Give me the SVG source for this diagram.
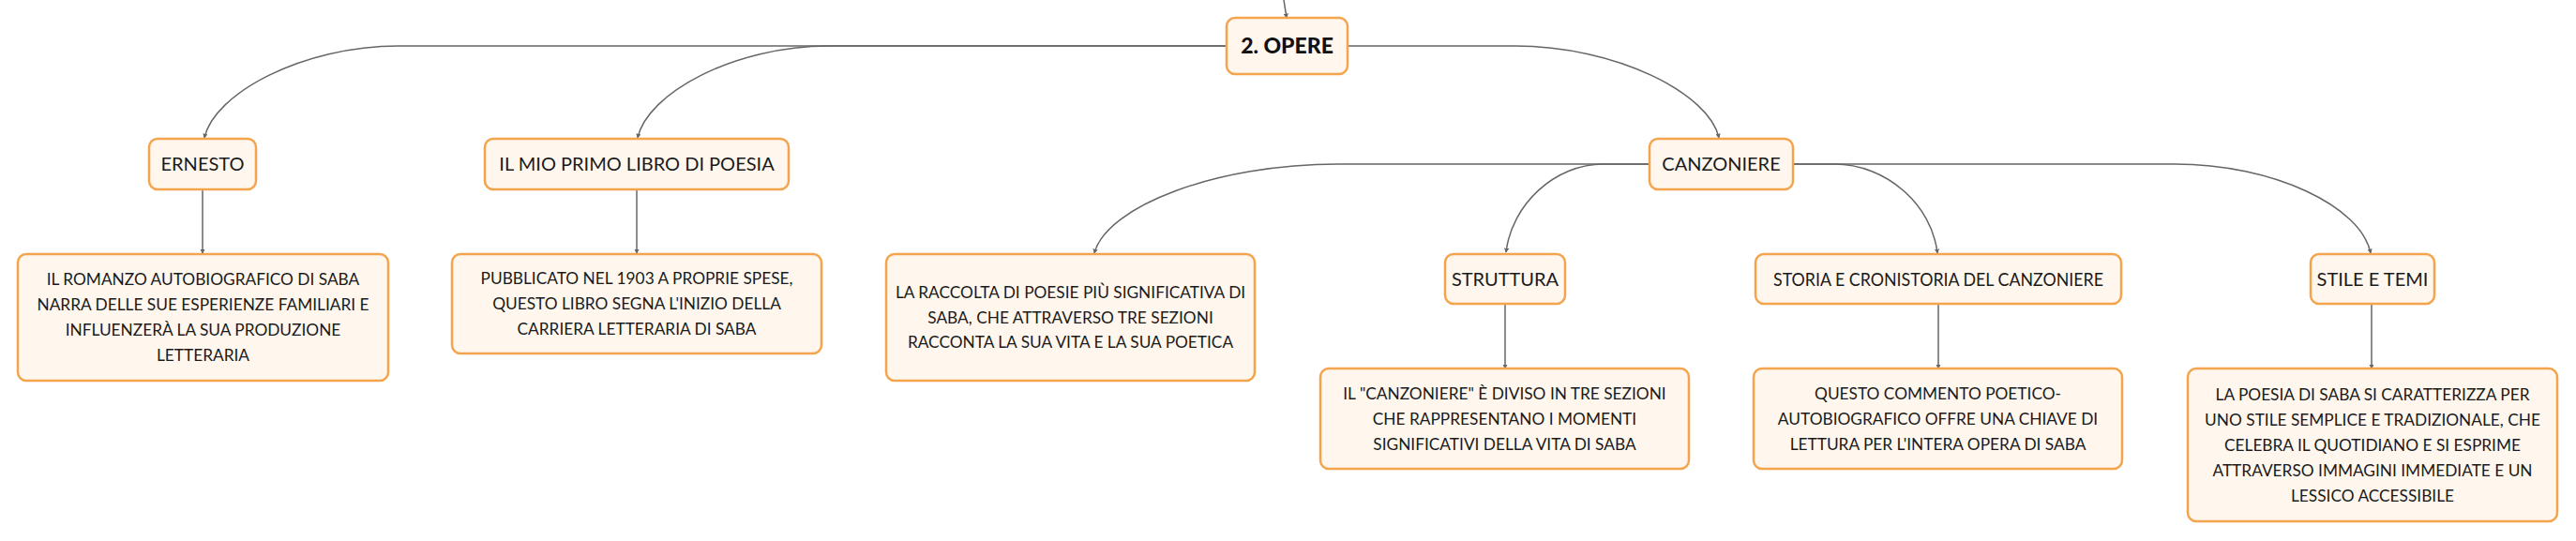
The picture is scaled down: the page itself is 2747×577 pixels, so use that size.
<svg xmlns="http://www.w3.org/2000/svg" width="2747" height="577" viewBox="0 0 2747 577">
<style>
.box{fill:#FFF7EE;stroke:#F4A44C;stroke-width:2.5}
.lbl{font-family:Lato,"Noto Sans","Liberation Sans",sans-serif;font-size:20px;fill:#1a1a1a;text-anchor:middle}
.desc{font-family:Lato,"Noto Sans","Liberation Sans",sans-serif;font-size:17.3px;fill:#1a1a1a;text-anchor:middle}
.root{font-family:Lato,"Noto Sans","Liberation Sans",sans-serif;font-size:23px;font-weight:900;fill:#111;text-anchor:middle}
.edge{fill:none;stroke:#666;stroke-width:1.5;marker-end:url(#arr)}
</style>
<defs>
<marker id="arr" viewBox="0 0 6 6" refX="5" refY="3" markerWidth="3.5" markerHeight="3.5" orient="auto" markerUnits="strokeWidth">
<path d="M0,0 L6,3 L0,6 z" fill="#666"/>
</marker>
</defs>
<rect width="2747" height="577" fill="#fff"/>
<g id="connectors">
<path class="edge" d="M1369 0 L1372 19"/>
<path class="edge" d="M1308 49 H425 C322 49 228 100 218 147"/>
<path class="edge" d="M1308 49 H884 C782 49 690 100 680 147"/>
<path class="edge" d="M1437 49 H1615 C1724 49 1823 100 1833 147"/>
<path class="edge" d="M1759 175 H1427 C1297 175 1180 220 1167 270"/>
<path class="edge" d="M1759 175 H1710 C1658 175 1612 218 1606 269"/>
<path class="edge" d="M1912 175 H1956 C2011 175 2060 218 2066 270"/>
<path class="edge" d="M1912 175 H2319 C2424 175 2518 220 2528 270"/>
<path class="edge" d="M216 202 V270"/>
<path class="edge" d="M679 202 V270"/>
<path class="edge" d="M1605 324 V393"/>
<path class="edge" d="M2067 324 V393"/>
<path class="edge" d="M2529 324 V393"/>
</g>
<g id="opere">
<rect class="box" x="1308" y="19" width="129" height="60" rx="9"/>
<text class="root" x="1372.5" y="57">2. OPERE</text>
</g>
<g id="ernesto">
<rect class="box" x="159" y="148" width="114" height="54" rx="9"/>
<text class="lbl" x="216" y="182">ERNESTO</text>
</g>
<g id="ernesto-desc">
<rect class="box" x="19" y="271" width="395" height="135" rx="9"/>
<text class="desc" x="216.5" y="303.5">IL ROMANZO AUTOBIOGRAFICO DI SABA</text>
<text class="desc" x="216.5" y="330.5">NARRA DELLE SUE ESPERIENZE FAMILIARI E</text>
<text class="desc" x="216.5" y="357.5">INFLUENZERÀ LA SUA PRODUZIONE</text>
<text class="desc" x="216.5" y="384.5">LETTERARIA</text>
</g>
<g id="primo-libro">
<rect class="box" x="517" y="148" width="324" height="54" rx="9"/>
<text class="lbl" x="679" y="182">IL MIO PRIMO LIBRO DI POESIA</text>
</g>
<g id="primo-libro-desc">
<rect class="box" x="482" y="271" width="394" height="106" rx="9"/>
<text class="desc" x="679" y="303">PUBBLICATO NEL 1903 A PROPRIE SPESE,</text>
<text class="desc" x="679" y="330">QUESTO LIBRO SEGNA L'INIZIO DELLA</text>
<text class="desc" x="679" y="357">CARRIERA LETTERARIA DI SABA</text>
</g>
<g id="canzoniere">
<rect class="box" x="1759" y="148" width="153" height="54" rx="9"/>
<text class="lbl" x="1835.5" y="182">CANZONIERE</text>
</g>
<g id="raccolta">
<rect class="box" x="945" y="271" width="393" height="135" rx="9"/>
<text class="desc" x="1141.5" y="317.5">LA RACCOLTA DI POESIE PIÙ SIGNIFICATIVA DI</text>
<text class="desc" x="1141.5" y="344.5">SABA, CHE ATTRAVERSO TRE SEZIONI</text>
<text class="desc" x="1141.5" y="371">RACCONTA LA SUA VITA E LA SUA POETICA</text>
</g>
<g id="struttura">
<rect class="box" x="1541" y="271" width="128" height="53" rx="9"/>
<text class="lbl" x="1605" y="304.5">STRUTTURA</text>
</g>
<g id="struttura-desc">
<rect class="box" x="1408" y="393" width="393" height="107" rx="9"/>
<text class="desc" x="1604.5" y="426">IL "CANZONIERE" È DIVISO IN TRE SEZIONI</text>
<text class="desc" x="1604.5" y="453">CHE RAPPRESENTANO I MOMENTI</text>
<text class="desc" x="1604.5" y="480">SIGNIFICATIVI DELLA VITA DI SABA</text>
</g>
<g id="storia">
<rect class="box" x="1872" y="271" width="390" height="53" rx="9"/>
<text class="lbl" x="2067" y="304.5" textLength="352" lengthAdjust="spacingAndGlyphs">STORIA E CRONISTORIA DEL CANZONIERE</text>
</g>
<g id="storia-desc">
<rect class="box" x="1870" y="393" width="393" height="107" rx="9"/>
<text class="desc" x="2066.5" y="426">QUESTO COMMENTO POETICO-</text>
<text class="desc" x="2066.5" y="453">AUTOBIOGRAFICO OFFRE UNA CHIAVE DI</text>
<text class="desc" x="2066.5" y="480">LETTURA PER L'INTERA OPERA DI SABA</text>
</g>
<g id="stile">
<rect class="box" x="2464" y="271" width="132" height="53" rx="9"/>
<text class="lbl" x="2530" y="304.5">STILE E TEMI</text>
</g>
<g id="stile-desc">
<rect class="box" x="2333" y="393" width="394" height="163" rx="9"/>
<text class="desc" x="2530" y="427">LA POESIA DI SABA SI CARATTERIZZA PER</text>
<text class="desc" x="2530" y="454">UNO STILE SEMPLICE E TRADIZIONALE, CHE</text>
<text class="desc" x="2530" y="481">CELEBRA IL QUOTIDIANO E SI ESPRIME</text>
<text class="desc" x="2530" y="508">ATTRAVERSO IMMAGINI IMMEDIATE E UN</text>
<text class="desc" x="2530" y="535">LESSICO ACCESSIBILE</text>
</g>
</svg>
